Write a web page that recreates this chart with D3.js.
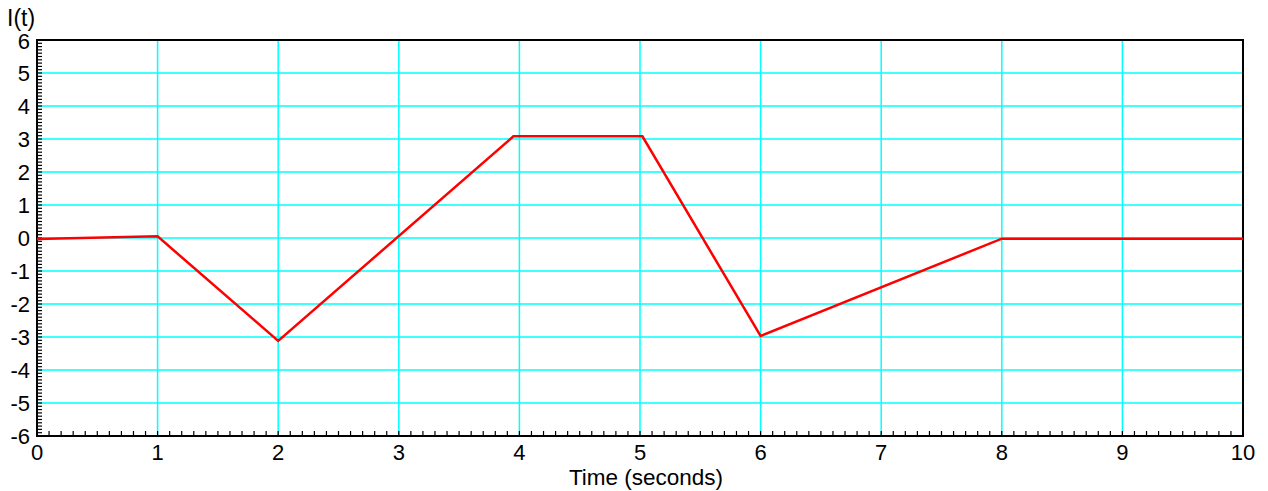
<!DOCTYPE html>
<html><head><meta charset="utf-8">
<script src="https://cdn.jsdelivr.net/npm/d3@7"></script>
<style>body{margin:0;background:#fff}svg{display:block}text{font-family:"Liberation Sans",Arial,sans-serif}</style>
</head><body><svg id="c" width="1268" height="491"></svg>
<script>
const timeValues = [0, 1, 2, 3.95, 5.02, 6, 8, 10];
const currentValues = [-0.03, 0.05, -3.12, 3.08, 3.08, -2.97, -0.02, -0.02];
const xTicks = [0,1,2,3,4,5,6,7,8,9,10];
const yTicks = [-6,-5,-4,-3,-2,-1,0,1,2,3,4,5,6];
const xLabel = "Time (seconds)";
const yLabel = "I(t)";

const svg = d3.select("#c");
const L=37,R=1243,T=40,B=436;
const x = d3.scaleLinear().domain([0,10]).range([L,R]);
const y = d3.scaleLinear().domain([-6,6]).range([B,T]);

// grid
svg.append("g").selectAll("line").data(xTicks.slice(1,-1)).join("line")
  .attr("x1",d=>x(d)).attr("x2",d=>x(d)).attr("y1",T).attr("y2",B)
  .attr("stroke","#00ffff").attr("stroke-width",1.5);
svg.append("g").selectAll("line").data(yTicks.slice(1,-1)).join("line")
  .attr("y1",d=>y(d)).attr("y2",d=>y(d)).attr("x1",L).attr("x2",R)
  .attr("stroke","#00ffff").attr("stroke-width",1.5);

// minor ticks
const xMinor = d3.range(0,101).map(i=>i/10);
const yMinor = d3.range(-60,61).map(i=>i/10);
svg.append("g").selectAll("line").data(xMinor).join("line")
  .attr("x1",d=>x(d)).attr("x2",d=>x(d)).attr("y1",B).attr("y2",B-5)
  .attr("stroke","#000").attr("stroke-width",1.2);
svg.append("g").selectAll("line").data(yMinor).join("line")
  .attr("y1",d=>y(d)).attr("y2",d=>y(d)).attr("x1",L).attr("x2",L+5)
  .attr("stroke","#000").attr("stroke-width",1.2);

// frame
svg.append("rect").attr("x",L).attr("y",T).attr("width",R-L).attr("height",B-T)
  .attr("fill","none").attr("stroke","#000").attr("stroke-width",2);

// data line
svg.append("path").datum(timeValues.map((t,i)=>[t,currentValues[i]]))
  .attr("d",d3.line().x(d=>x(d[0])).y(d=>y(d[1])))
  .attr("fill","none").attr("stroke","#ff0000").attr("stroke-width",2.5).attr("stroke-linejoin","miter");

// tick labels
svg.append("g").selectAll("text").data(xTicks).join("text")
  .attr("x",d=>x(d)).attr("y",460).attr("text-anchor","middle")
  .attr("font-size",22).text(d=>d);
svg.append("g").selectAll("text").data(yTicks).join("text")
  .attr("x",30).attr("y",d=>y(d)+(d===6?9:8)).attr("text-anchor","end")
  .attr("font-size",22).text(d=>d);

svg.append("text").attr("x",x(5)+6).attr("y",485).attr("text-anchor","middle")
  .attr("font-size",22.5).text(xLabel);
svg.append("text").attr("x",7).attr("y",26).attr("font-size",23).text(yLabel);
</script></body></html>
